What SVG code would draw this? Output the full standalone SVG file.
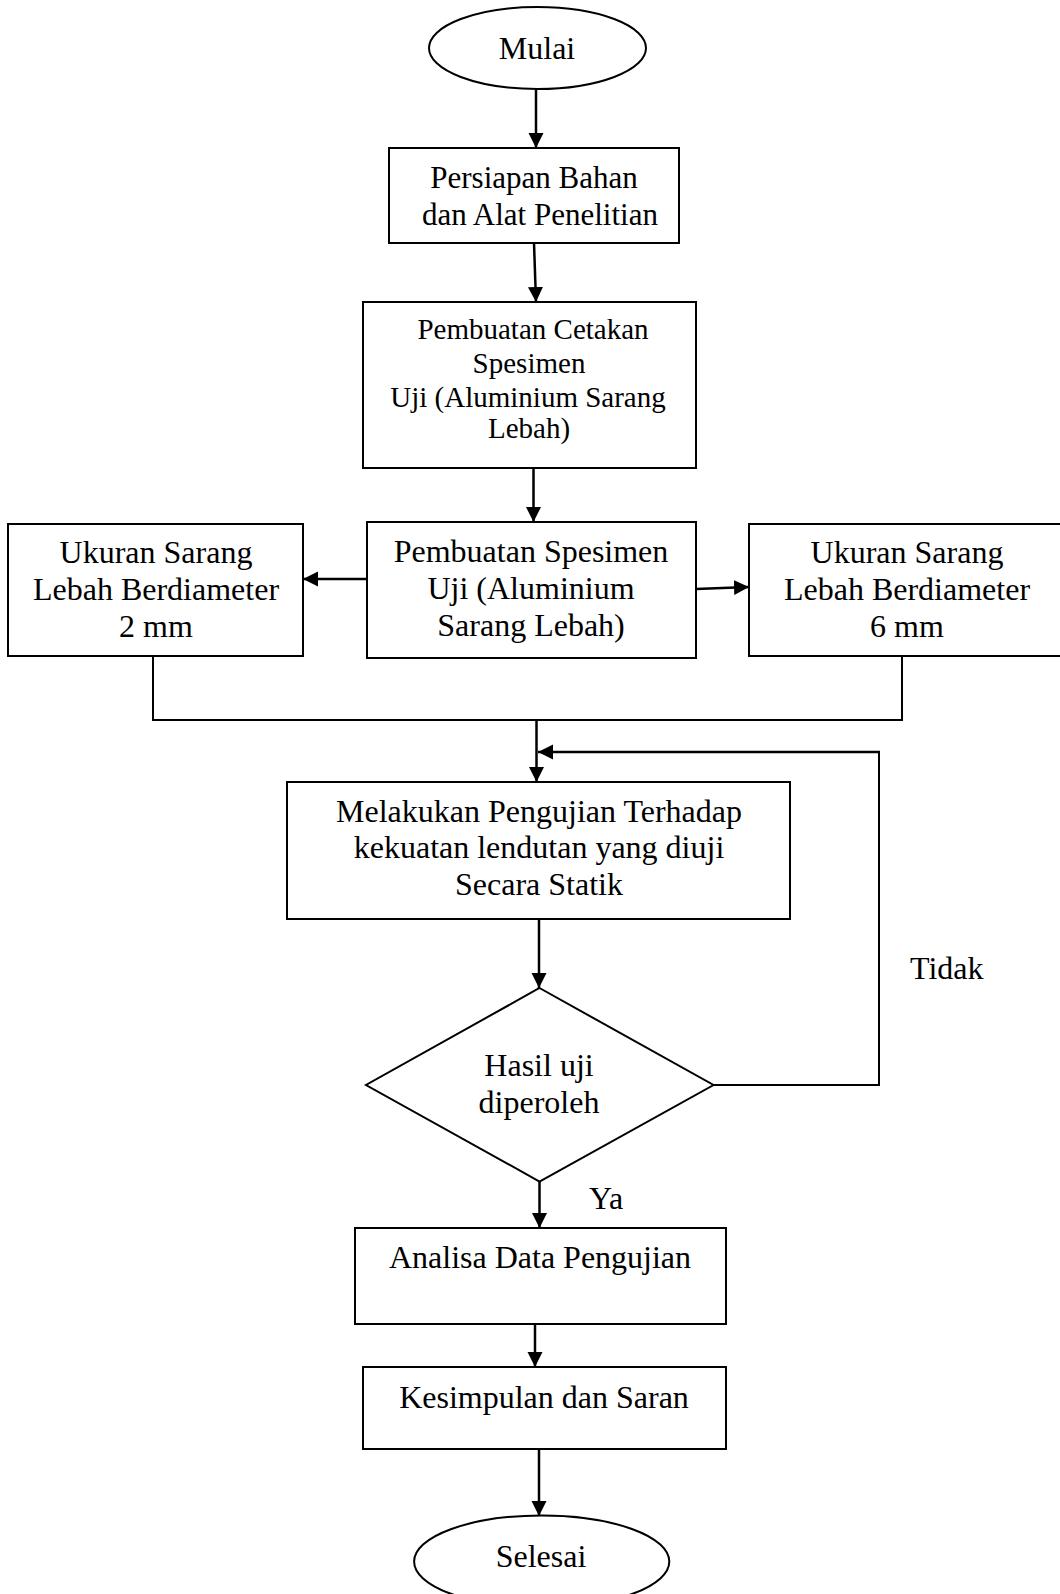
<svg xmlns="http://www.w3.org/2000/svg" width="1060" height="1594" viewBox="0 0 1060 1594">
<style>
.shape{fill:#fff;stroke:#000;stroke-width:2}
.t{font-family:"Liberation Serif","Times New Roman",serif;font-size:32px;fill:#000;text-anchor:middle}
.ts{font-size:29px}
.line{fill:none;stroke:#000;stroke-width:2}
.arr{fill:none;stroke:#000;stroke-width:2.5;marker-end:url(#ah)}
</style>
<defs>
<marker id="ah" markerUnits="userSpaceOnUse" markerWidth="16" markerHeight="16" refX="15" refY="7.5" orient="auto">
<path d="M0,0 L15,7.5 L0,15 Z" fill="#000"/>
</marker>
</defs>
<rect width="1060" height="1594" fill="#fff"/>
<g id="connectors">
<path class="arr" d="M536,89 L536,148"/>
<path class="arr" d="M534,243 L536,302"/>
<path class="arr" d="M533.5,468 L533.5,522"/>
<path class="arr" d="M367,579 L303,579"/>
<path class="arr" d="M696,589 L749,587"/>
<path class="line" d="M153,656 L153,720 L902,720 L902,656"/>
<path class="arr" d="M536.5,720 L536.5,782"/>
<path class="line" d="M713.5,1085 L879,1085 L879,752"/>
<path class="arr" d="M880,752 L538,752"/>
<path class="arr" d="M539,919 L539,988"/>
<path class="arr" d="M539.5,1181.5 L539.5,1228"/>
<path class="arr" d="M535,1324 L535,1367"/>
<path class="arr" d="M539,1449 L539,1516"/>
</g>
<g id="mulai">
<ellipse class="shape" cx="537.5" cy="48" rx="108.5" ry="41"/>
<text class="t" x="537" y="59">Mulai</text>
</g>
<g id="persiapan">
<rect class="shape" x="389" y="148" width="290" height="95"/>
<text class="t" style="font-size:31px" x="534" y="188">Persiapan Bahan</text>
<text class="t" style="font-size:31px" x="540" y="225">dan Alat Penelitian</text>
</g>
<g id="cetakan">
<rect class="shape" x="363" y="302" width="333" height="166"/>
<text class="t ts" x="533" y="339">Pembuatan Cetakan</text>
<text class="t ts" x="529" y="373">Spesimen</text>
<text class="t ts" x="528" y="407">Uji (Aluminium Sarang</text>
<text class="t ts" x="529" y="438">Lebah)</text>
</g>
<g id="spesimen">
<rect class="shape" x="367" y="522" width="329" height="136"/>
<text class="t" x="531" y="562">Pembuatan Spesimen</text>
<text class="t" x="531" y="599">Uji (Aluminium</text>
<text class="t" x="531" y="636">Sarang Lebah)</text>
</g>
<g id="ukuran2">
<rect class="shape" x="8" y="524" width="295" height="132"/>
<text class="t" x="156" y="563">Ukuran Sarang</text>
<text class="t" x="156" y="600">Lebah Berdiameter</text>
<text class="t" x="156" y="637">2 mm</text>
</g>
<g id="ukuran6">
<rect class="shape" x="749" y="524" width="330" height="132"/>
<text class="t" x="907" y="563">Ukuran Sarang</text>
<text class="t" x="907" y="600">Lebah Berdiameter</text>
<text class="t" x="907" y="637">6 mm</text>
</g>
<g id="pengujian">
<rect class="shape" x="287" y="782" width="503" height="137"/>
<text class="t" x="539" y="822">Melakukan Pengujian Terhadap</text>
<text class="t" x="539" y="858">kekuatan lendutan yang diuji</text>
<text class="t" x="539" y="895">Secara Statik</text>
</g>
<g id="keputusan">
<polygon class="shape" points="539.5,988 713.5,1085 539.5,1181.5 366,1085"/>
<text class="t" x="539" y="1076">Hasil uji</text>
<text class="t" x="539" y="1113">diperoleh</text>
</g>
<g id="label-tidak">
<text class="t" style="text-anchor:start" x="910" y="979">Tidak</text>
</g>
<g id="label-ya">
<text class="t" style="text-anchor:start" x="589" y="1209">Ya</text>
</g>
<g id="analisa">
<rect class="shape" x="355" y="1228" width="371" height="96"/>
<text class="t" x="540" y="1268">Analisa Data Pengujian</text>
</g>
<g id="kesimpulan">
<rect class="shape" x="363" y="1367" width="363" height="82"/>
<text class="t" x="544" y="1408">Kesimpulan dan Saran</text>
</g>
<g id="selesai">
<ellipse class="shape" cx="541.7" cy="1561.5" rx="127.6" ry="46"/>
<text class="t" x="541" y="1567">Selesai</text>
</g>
</svg>
